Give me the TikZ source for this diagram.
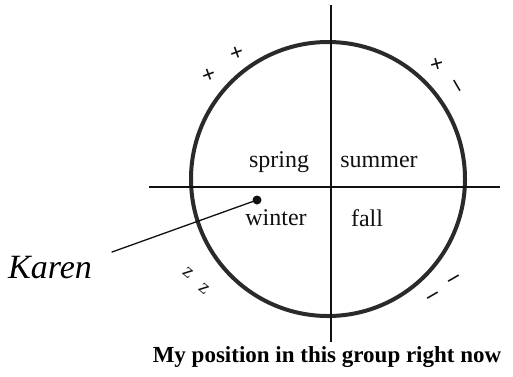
\documentclass[tikz,border=0pt]{standalone}
\usepackage{fontspec}
\setmainfont{Liberation Serif}
\usetikzlibrary{positioning}
\definecolor{ink}{HTML}{111111}
\definecolor{rim}{HTML}{2A2A2A}
\tikzset{
  axis/.style={draw=ink,line width=1.4pt},
  rim/.style={draw=rim,line width=4pt},
  season/.style={inner sep=0pt,text=ink,font=\fontsize{24}{26}\selectfont},
  tick/.style={inner sep=0pt,text=ink,font=\bfseries\fontsize{24}{26}\selectfont},
  pin/.style={circle,fill=ink,minimum size=9pt,inner sep=0pt},
  lead/.style={draw=ink,line width=1.3pt,line cap=round},
}
\begin{document}
\begin{tikzpicture}[x=1pt,y=-1pt]
  \path[use as bounding box,fill=white] (0,0) rectangle (513,376);
  % circle and the two axes
  \draw[rim] (328,179) circle (137);
  \coordinate (vtop) at (331,5);
  \coordinate (vbot) at (331,342);
  \coordinate (hleft) at (149,187);
  \coordinate (hright) at (500,187);
  \draw[axis] (vtop) -- (vbot);
  \draw[axis] (hleft) -- (hright);
  % quadrants
  \node[season] (spring) at (279,162) {spring};
  \node[season] (summer) at (379,162) {summer};
  \node[season] (winter) at (276,218) {winter};
  \node[season] (fall) at (367,218) {fall};
  % marks round the rim
  \node[tick,rotate=20] (tl1) at (209,76) {+};
  \node[tick,rotate=20] (tl2) at (237,54) {+};
  \node[tick,rotate=15] (tr1) at (437,65) {+};
  \node[tick,rotate=-60] (tr2) at (455,87) {--};
  \node[tick,rotate=30] (br1) at (455,281) {--};
  \node[tick,rotate=30] (br2) at (434,298) {--};
  \node[tick,rotate=-40,font=\fontsize{20}{22}\selectfont] (bl1) at (188,273) {z};
  \node[tick,rotate=-40,font=\fontsize{20}{22}\selectfont] (bl2) at (204,289) {z};
  % Karen
  \node[pin] (dot) at (257,200) {};
  \coordinate (tail) at (112,252);
  \draw[lead] (dot) -- (tail);
  \node[inner sep=0pt,font=\itshape\fontsize{34}{36}\selectfont] (karen) at (50,268) {Karen};
  % caption
  \node[inner sep=0pt,font=\bfseries\fontsize{23}{25}\selectfont] (caption) at (327,357) {My position in this group right now};
\end{tikzpicture}
\end{document}
